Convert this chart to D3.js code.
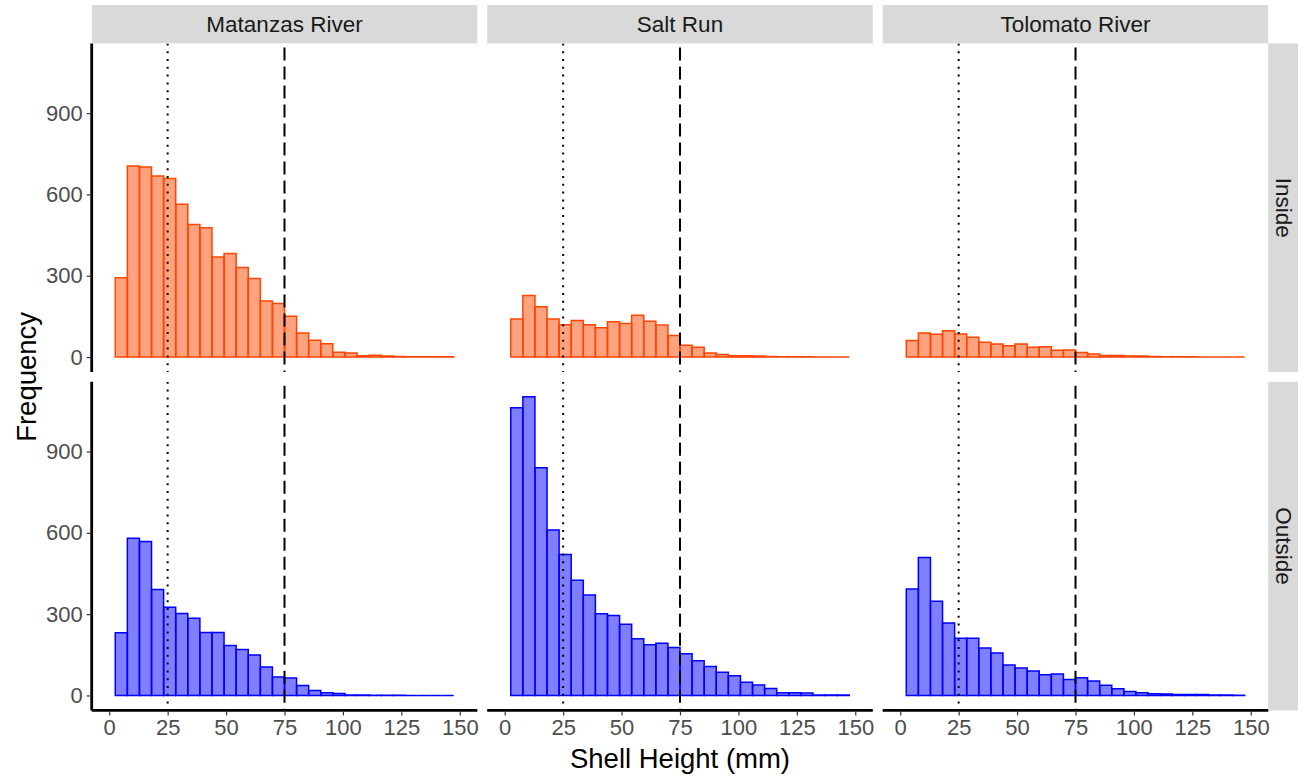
<!DOCTYPE html>
<html>
<head>
<meta charset="utf-8">
<script src="https://cdn.jsdelivr.net/npm/d3@7"></script>
<style>
  html, body { margin: 0; padding: 0; background: #fff; }
  svg { display: block; font-family: "Liberation Sans", Arial, sans-serif; }
</style>
</head>
<body>
<svg id="chart" width="1298" height="776"></svg>
<script>
// Facet labels
const sites = ["Matanzas River", "Salt Run", "Tolomato River"];
const zones = ["Inside", "Outside"];

// Histogram counts per 150/29 mm bin (28 visible bins, first bin starts at ~2.6 mm)
const matanzasInside  = [293, 705, 701, 668, 659, 564, 489, 477, 369, 382, 330, 290, 207, 198, 151, 89, 62, 49, 18, 15, 5, 7, 4, 2, 1, 1, 1, 1];
const saltRunInside   = [140, 227, 186, 140, 119, 135, 119, 108, 130, 124, 154, 132, 118, 80, 44, 36, 15, 9, 5, 5, 4, 2, 1, 1, 1, 0, 0, 0];
const tolomatoInside  = [61, 89, 84, 97, 85, 73, 55, 48, 42, 48, 36, 38, 25, 26, 17, 11, 6, 6, 4, 4, 2, 1, 1, 1, 0, 0, 0, 0];
const matanzasOutside = [231, 580, 568, 391, 325, 302, 285, 232, 232, 184, 170, 149, 105, 68, 64, 37, 18, 10, 7, 2, 2, 1, 1, 1, 0, 0, 0, 0];
const saltRunOutside  = [1061, 1102, 840, 610, 520, 425, 371, 301, 295, 263, 209, 187, 193, 177, 154, 128, 107, 86, 73, 49, 39, 26, 10, 10, 9, 2, 2, 2];
const tolomatoOutside = [393, 509, 348, 267, 211, 211, 175, 157, 112, 101, 90, 76, 79, 59, 65, 53, 38, 25, 15, 10, 6, 5, 4, 4, 4, 2, 2, 1];

// Axis ticks and reference sizes (mm)
const xTicks = [0, 25, 50, 75, 100, 125, 150];
const yTicks = [0, 300, 600, 900];
const refLines = [25, 75];

const BIN_WIDTH = 150 / 29;

const seriesByPanel = [
  [matanzasInside, saltRunInside, tolomatoInside],
  [matanzasOutside, saltRunOutside, tolomatoOutside]
];
const zoneColor = ["#FF4500", "#0000FF"];

// Layout
const panelX0 = [91.7, 487.2, 882.7];
const panelW = 385.6;
const panelY0 = [43.4, 381.8];
const panelH = 328.6;
const stripTop = 5;
const stripRightW = 40;

const svg = d3.select("#chart");

const ymax = d3.max(seriesByPanel.flat(2));
const yDomain = [-0.05 * ymax, 1.05 * ymax];
const xDomain = [-7.5, 157.5];

const defs = svg.append("defs");

// Top strips
sites.forEach((s, c) => {
  svg.append("rect")
    .attr("x", panelX0[c]).attr("y", stripTop)
    .attr("width", panelW).attr("height", panelY0[0] - stripTop)
    .attr("fill", "#D9D9D9");
  svg.append("text")
    .attr("x", panelX0[c] + panelW / 2)
    .attr("y", (stripTop + panelY0[0]) / 2)
    .attr("dy", "0.36em")
    .attr("text-anchor", "middle")
    .attr("font-size", 22.5)
    .attr("fill", "#1A1A1A")
    .text(s);
});

// Right strips
const stripRX = panelX0[2] + panelW;
zones.forEach((z, r) => {
  svg.append("rect")
    .attr("x", stripRX).attr("y", panelY0[r])
    .attr("width", stripRightW).attr("height", panelH)
    .attr("fill", "#D9D9D9");
  const cx = stripRX + 16, cy = panelY0[r] + panelH / 2;
  svg.append("text")
    .attr("transform", `translate(${cx},${cy}) rotate(90)`)
    .attr("dy", "0.36em")
    .attr("text-anchor", "middle")
    .attr("font-size", 22.5)
    .attr("fill", "#1A1A1A")
    .text(z);
});

// Panels
zones.forEach((z, r) => {
  sites.forEach((s, c) => {
    const x = d3.scaleLinear().domain(xDomain).range([panelX0[c], panelX0[c] + panelW]);
    const y = d3.scaleLinear().domain(yDomain).range([panelY0[r] + panelH, panelY0[r]]);
    const clipId = `clip-${r}-${c}`;
    defs.append("clipPath").attr("id", clipId)
      .append("rect")
      .attr("x", panelX0[c]).attr("y", panelY0[r])
      .attr("width", panelW).attr("height", panelH);

    const g = svg.append("g").attr("clip-path", `url(#${clipId})`);
    const counts = seriesByPanel[r][c];
    const bins = counts.map((v, i) => ({
      x0: (i + 0.5) * BIN_WIDTH,
      x1: (i + 1.5) * BIN_WIDTH,
      v
    }));

    g.selectAll("path.bar").data(bins).join("path")
      .attr("class", "bar")
      .attr("d", d => {
        const p = d3.path();
        p.moveTo(x(d.x0), y(0));
        p.lineTo(x(d.x0), y(d.v));
        p.lineTo(x(d.x1), y(d.v));
        p.lineTo(x(d.x1), y(0));
        p.closePath();
        return p.toString();
      })
      .attr("fill", zoneColor[r])
      .attr("fill-opacity", 0.5)
      .attr("stroke", zoneColor[r])
      .attr("stroke-width", 1.5);

    // Reference sizes: dotted at the first, dashed at the second
    refLines.forEach((v, k) => {
      g.append("line")
        .attr("x1", x(v)).attr("x2", x(v))
        .attr("y1", panelY0[r]).attr("y2", panelY0[r] + panelH)
        .attr("stroke", "#000")
        .attr("stroke-width", k === 0 ? 2 : 2)
        .attr("stroke-dasharray", k === 0 ? "2,5.8" : "13,6")
        .attr("stroke-dashoffset", k === 0 ? 0 : -4);
    });

    // Y axis on the first column
    if (c === 0) {
      const ay = svg.append("g")
        .attr("transform", `translate(${panelX0[c]},0)`)
        .call(d3.axisLeft(y).tickValues(yTicks).tickSize(5).tickPadding(4).tickFormat(d3.format("d")));
      ay.select(".domain").attr("stroke", "#000").attr("stroke-width", 2.8)
        .attr("d", `M0,${panelY0[r]}V${panelY0[r] + panelH}`);
      ay.selectAll(".tick line").attr("stroke", "#333").attr("stroke-width", 1.2);
      ay.selectAll(".tick text").attr("fill", "#4D4D4D").attr("font-size", 22)
        .attr("font-family", "Liberation Sans, Arial, sans-serif");
    }
    // X axis on the bottom row
    if (r === 1) {
      const ax = svg.append("g")
        .attr("transform", `translate(0,${panelY0[r] + panelH})`)
        .call(d3.axisBottom(x).tickValues(xTicks).tickSize(5).tickPadding(4).tickFormat(d3.format("d")));
      ax.select(".domain").attr("stroke", "#000").attr("stroke-width", 2.8)
        .attr("d", `M${panelX0[c]},0H${panelX0[c] + panelW}`);
      ax.selectAll(".tick line").attr("stroke", "#333").attr("stroke-width", 1.2);
      ax.selectAll(".tick text").attr("fill", "#4D4D4D").attr("font-size", 22)
        .attr("font-family", "Liberation Sans, Arial, sans-serif");
    }
  });
});

// Axis titles
svg.append("text")
  .attr("x", panelX0[0] + (panelX0[2] + panelW - panelX0[0]) / 2)
  .attr("y", 768)
  .attr("text-anchor", "middle")
  .attr("font-size", 27.5)
  .attr("fill", "#000")
  .text("Shell Height (mm)");

svg.append("text")
  .attr("transform", `translate(36,${(panelY0[0] + panelY0[1] + panelH) / 2}) rotate(-90)`)
  .attr("text-anchor", "middle")
  .attr("font-size", 27.5)
  .attr("fill", "#000")
  .text("Frequency");
</script>
</body>
</html>
